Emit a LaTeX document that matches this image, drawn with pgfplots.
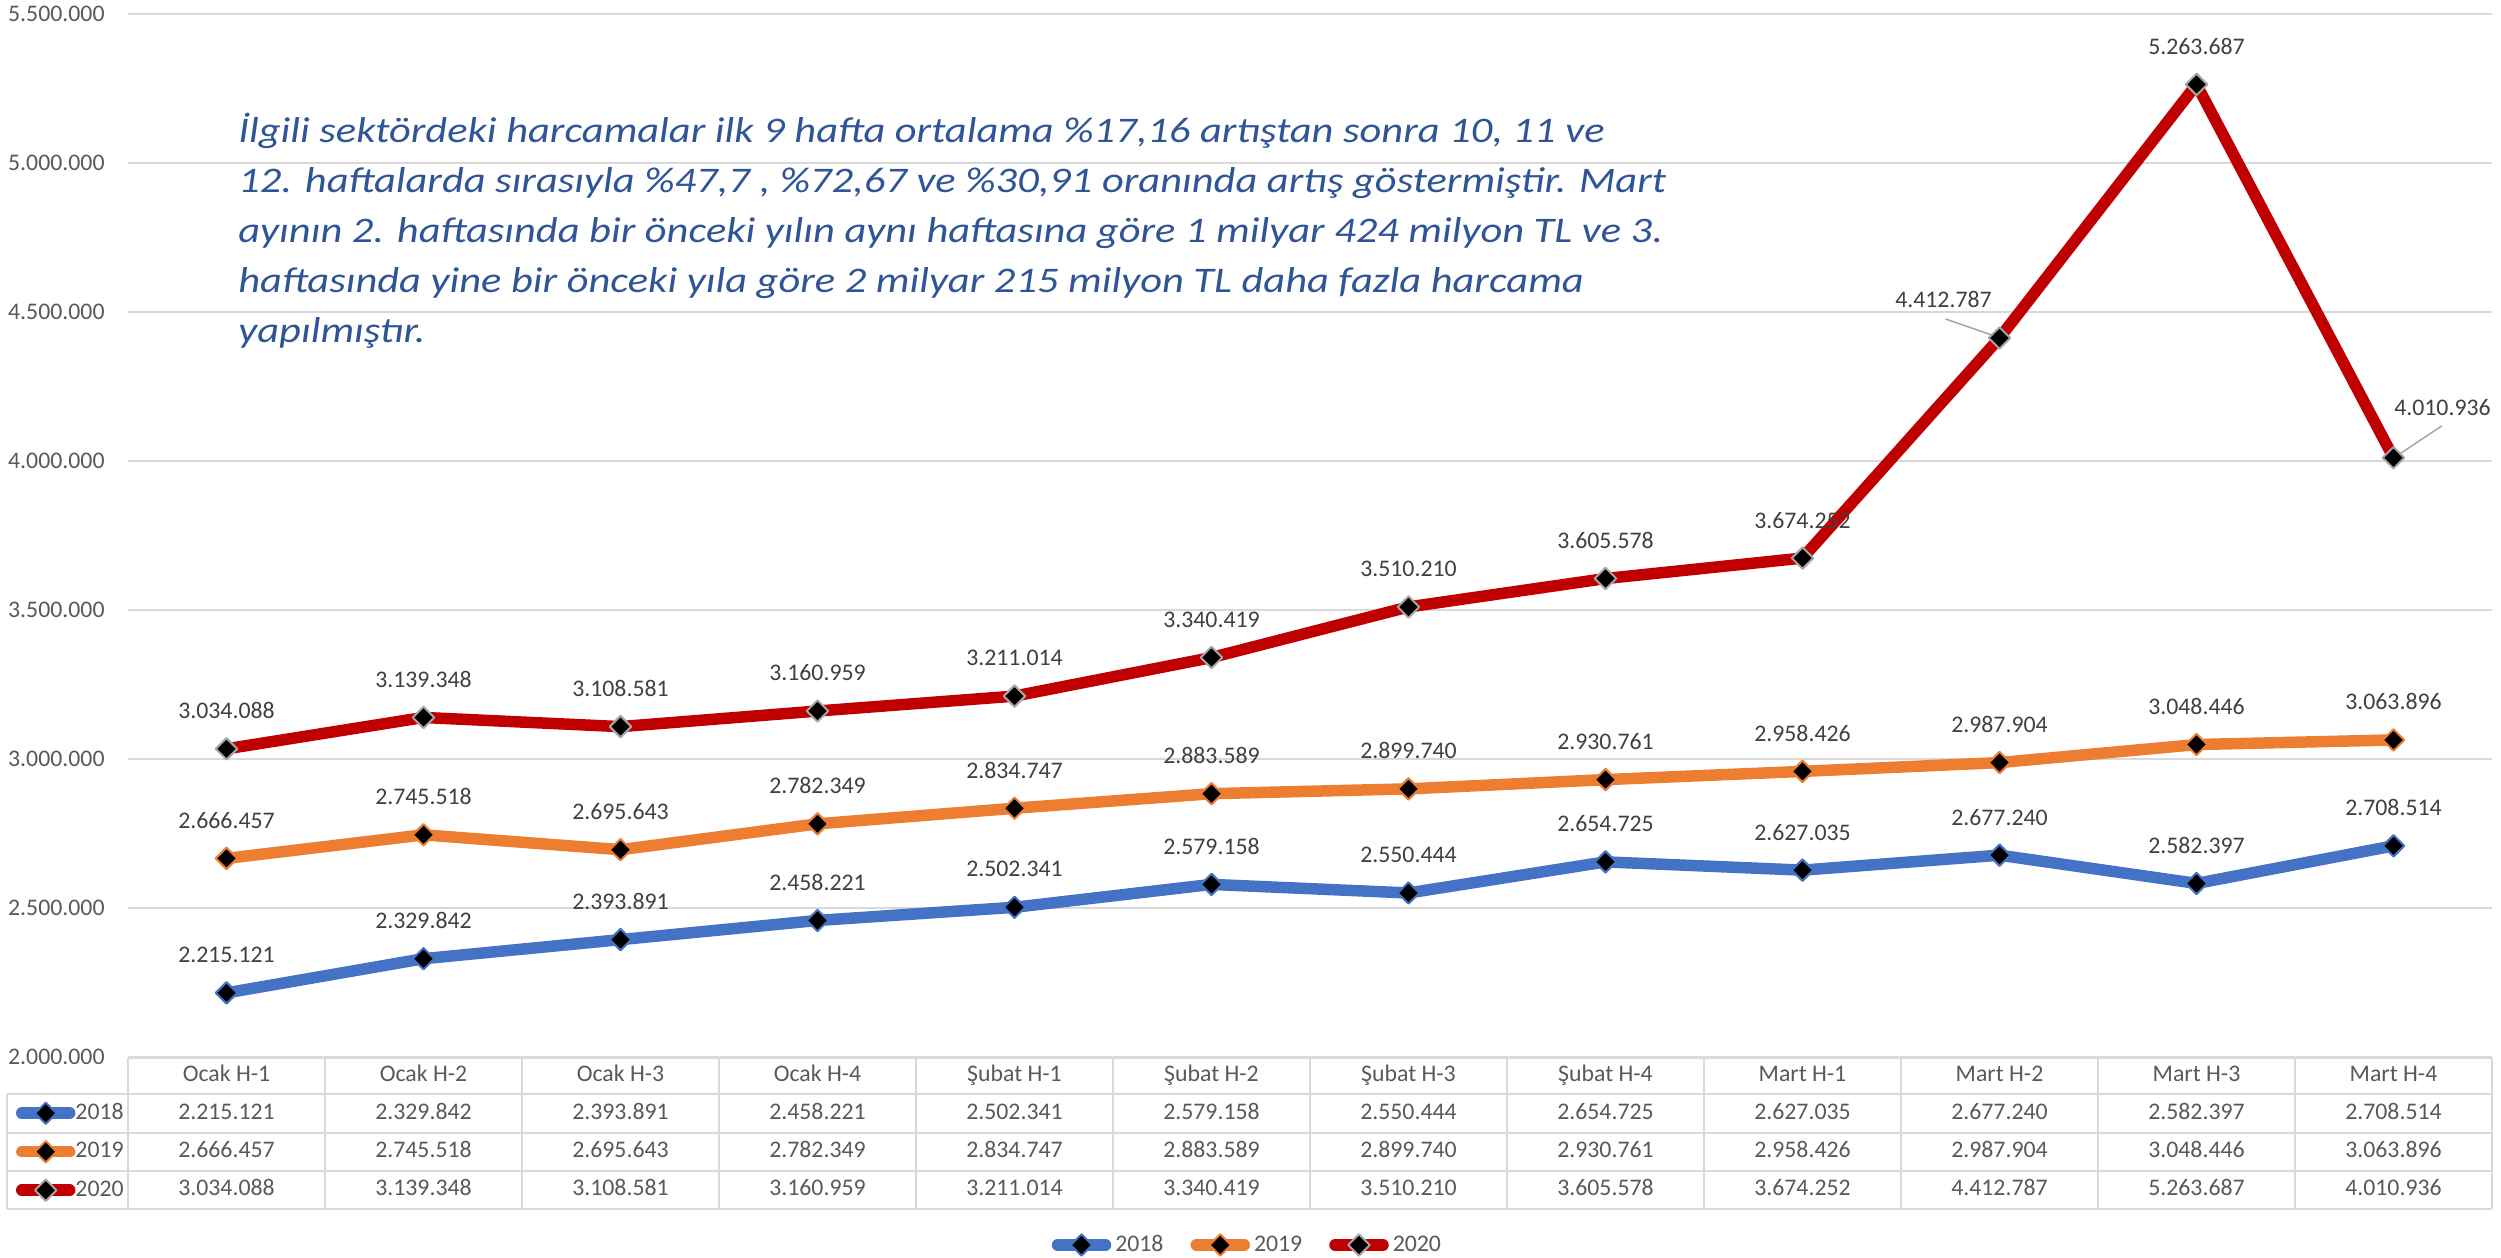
\documentclass[border=0pt]{standalone}
\usepackage{graphicx}
\usepackage{pgfplots}
\pgfplotsset{compat=1.18}
\usepackage{pgfplotstable}
\usepackage{fontspec}
\setmainfont{Carlito}
\definecolor{c18}{HTML}{4472C4}
\definecolor{c19}{HTML}{ED7D31}
\definecolor{c20}{HTML}{C00000}
\definecolor{m20}{HTML}{A5A5A5}
\definecolor{txt}{HTML}{595959}
\definecolor{lbl}{HTML}{404040}
\definecolor{grd}{HTML}{D9D9D9}
\definecolor{ann}{HTML}{2F5597}
\pgfkeys{/pgf/number format/.cd, fixed, precision=0, 1000 sep={.}, assume math mode=true}
\newcommand\lblfont{\fontsize{11.9pt}{14pt}\selectfont}
\newcommand\ann[1]{\scalebox{1.18}[1]{#1}}

\pgfplotstableread{
x y18 y19 y20 dx dy
0 2215121 2666457 3034088 0 19
1 2329842 2745518 3139348 0 19
2 2393891 2695643 3108581 0 19
3 2458221 2782349 3160959 0 19
4 2502341 2834747 3211014 0 19
5 2579158 2883589 3340419 0 19
6 2550444 2899740 3510210 0 19
7 2654725 2930761 3605578 0 19
8 2627035 2958426 3674252 0 19
9 2677240 2987904 4412787 -28 19.5
10 2582397 3048446 5263687 0 19
11 2708514 3063896 4010936 24.5 25
}\data

\pgfplotsset{
  keyimg/.style={legend image code/.code={\draw[##1, mark repeat=2, mark phase=2, line cap=round] plot coordinates {(0pt,0pt) (12pt,0pt) (24pt,0pt)};}},
  s18/.style={c18, line width=5.75pt, line join=round, mark=square*, mark size=3.8pt, mark options={rotate=45, fill=black, draw=c18, line width=1pt, solid}},
  s19/.style={c19, line width=5.75pt, line join=round, mark=square*, mark size=3.8pt, mark options={rotate=45, fill=black, draw=c19, line width=1pt, solid}},
  s20/.style={c20, line width=5.75pt, line join=round, mark=square*, mark size=3.8pt, mark options={rotate=45, fill=black, draw=m20, line width=1pt, solid}},
}

\begin{document}
\begin{tikzpicture}
\path[use as bounding box] (0pt,0pt) rectangle (1250.5pt,629pt);

\begin{axis}[
  at={(64pt,100.5pt)}, anchor=south west, scale only axis,
  width=1182pt, height=521.5pt,
  xmin=-0.5, xmax=11.5, ymin=2000000, ymax=5500000,
  ytick={2000000,2500000,3000000,3500000,4000000,4500000,5000000,5500000},
  scaled y ticks=false,
  yticklabel style={anchor=east, inner sep=0pt, xshift=-11.5pt, font=\lblfont, text=txt},
  xtick={0,1,2,3,4,5,6,7,8,9,10,11},
  xticklabels={Ocak H-1,Ocak H-2,Ocak H-3,Ocak H-4,Şubat H-1,Şubat H-2,Şubat H-3,Şubat H-4,Mart H-1,Mart H-2,Mart H-3,Mart H-4},
  xticklabel style={anchor=center, yshift=-9.5pt, inner sep=0pt, text height=8pt, text depth=2pt, font=\lblfont, text=txt},
  axis line style={draw=none}, major tick style={draw=none},
  ymajorgrids, grid style={grd, line width=1pt},
  clip=false,
  keyimg,
  legend style={at={(axis description cs:0.4731,-0.18025)}, anchor=center, legend columns=3,
    draw=none, fill=none, inner sep=0pt,
    nodes={inner sep=0pt, font=\lblfont, text=txt},
    /tikz/every odd column/.append style={column sep=2pt},
    /tikz/every even column/.append style={column sep=13.5pt}},
  point meta=explicit symbolic,
  nodes near coords={\pgfmathprintnumber{\pgfplotspointmeta}},
]
\addplot[s18, every node near coord/.append style={anchor=center, yshift=19pt, font=\lblfont, text=lbl}]
  table[x=x, y=y18, meta=y18] {\data};
\addlegendentry{2018}
\addplot[s19, every node near coord/.append style={anchor=center, yshift=19pt, font=\lblfont, text=lbl}]
  table[x=x, y=y19, meta=y19] {\data};
\addlegendentry{2019}
\addplot[s20,
  visualization depends on={\thisrow{dx} \as \dx},
  visualization depends on={\thisrow{dy} \as \dy},
  every node near coord/.append style={anchor=center, xshift=\dx pt, yshift=\dy pt, font=\lblfont, text=lbl}]
  table[x=x, y=y20, meta=y20] {\data};
\addlegendentry{2020}
\draw[m20, line width=0.75pt] (axis cs:9,4412787) ++(-27pt,9.5pt) -- ++(26pt,-9pt);
\draw[m20, line width=0.75pt] (axis cs:11,4010936) ++(24.25pt,16pt) -- ++(-23.25pt,-15.5pt);
\end{axis}

% table legend keys
\begin{axis}[
  at={(0pt,0pt)}, anchor=origin, hide axis, scale only axis,
  width=100pt, height=100pt, xmin=0, xmax=100, ymin=0, ymax=100,
  keyimg,
  legend style={at={(axis cs:8,82)}, anchor=north west, legend columns=1,
    draw=none, fill=none, inner sep=0pt, outer sep=0pt, row sep=0pt,
    nodes={inner sep=0pt, minimum height=19.25pt, font=\lblfont, text=txt},
    /tikz/every odd column/.append style={column sep=0pt}},
  legend cell align=left,
]
\addlegendimage{s18}\addlegendentry{2018}
\addlegendimage{s19}\addlegendentry{2019}
\addlegendimage{s20}\addlegendentry{2020}
\end{axis}

% data table grid
\begin{scope}[grd, line width=1pt]
\draw (64pt,100pt) -- (1246pt,100pt);
\foreach \yy in {82,62.5,43.5,24.5} {\draw (3.5pt,\yy pt) -- (1246pt,\yy pt);}
\draw (3.5pt,82pt) -- (3.5pt,24.5pt);
\foreach \k in {0,...,12} {\draw ({64pt+98.5pt*\k},100pt) -- ({64pt+98.5pt*\k},24.5pt);}
\end{scope}

% data table values
\foreach \r in {0,...,11} {
  \foreach \col/\yy in {y18/72.25,y19/53,y20/34} {
    \pgfplotstablegetelem{\r}{\col}\of\data
    \node[anchor=center, inner sep=0pt, text height=8pt, text depth=2pt, font=\lblfont, text=txt]
      at ({64pt+98.5pt*(\r+0.5)},\yy pt) {\pgfmathprintnumber{\pgfplotsretval}};
  }
}

% annotation
\begin{scope}[every node/.style={anchor=base west, inner sep=0pt, font=\fontsize{18pt}{25pt}\selectfont\itshape, text=ann}]
\node at (119pt,557.5pt) {\ann{İlgili sektördeki harcamalar ilk 9 hafta ortalama \%17,16 artıştan sonra 10, 11 ve}};
\node at (119pt,532.5pt) {\ann{12. haftalarda sırasıyla \%47,7 , \%72,67 ve \%30,91 oranında artış göstermiştir. Mart}};
\node at (119pt,507.5pt) {\ann{ayının 2. haftasında bir önceki yılın aynı haftasına göre 1 milyar 424 milyon TL ve 3.}};
\node at (119pt,482.5pt) {\ann{haftasında yine bir önceki yıla göre 2 milyar 215 milyon TL daha fazla harcama}};
\node at (119pt,457.5pt) {\ann{yapılmıştır.}};
\end{scope}
\end{tikzpicture}
\end{document}
